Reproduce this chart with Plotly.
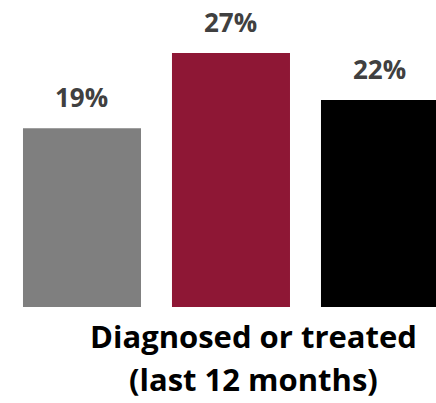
import plotly.graph_objects as go

# Data
groups = ["Group 1", "Group 2", "Group 3"]
values = [19, 27, 22]
value_labels = ["19%", "27%", "22%"]
bar_colors = ["#7f7f7f", "#8e1735", "#000000"]
category_lines = ["Diagnosed or treated", "(last 12 months)"]

W, H = 436, 403
FONT = "'Open Sans', sans-serif"

fig = go.Figure()
fig.add_trace(go.Bar(
    x=groups, y=values,
    marker=dict(color=bar_colors, line=dict(width=0)),
    width=0.792,
    hoverinfo="skip",
    showlegend=False,
))

annotations = []
for g, v, t in zip(groups, values, value_labels):
    annotations.append(dict(
        x=g, y=v, xref="x", yref="y", text="<b>%s</b>" % t,
        showarrow=False, yanchor="bottom", yshift=11,
        font=dict(family=FONT, size=26, color="#404040"),
    ))

plot_h = 307
line_y = [-40, -83]  # baselines in px below axis
for txt, dy in zip(category_lines, line_y):
    annotations.append(dict(
        x=254 / W, y=dy / plot_h, xref="paper", yref="paper",
        text="<b>%s</b>" % txt, showarrow=False,
        yanchor="bottom", xanchor="center", yshift=-12,
        font=dict(family=FONT, size=31, color="#000000"),
    ))

fig.update_layout(
    width=W, height=H,
    margin=dict(l=0, r=0, t=0, b=H - plot_h, pad=0),
    paper_bgcolor="white", plot_bgcolor="white",
    xaxis=dict(range=[-0.5503, 2.376], showticklabels=False, showgrid=False,
               zeroline=False, showline=False, ticks=""),
    yaxis=dict(range=[0, plot_h / 9.41], showticklabels=False, showgrid=False,
               zeroline=False, showline=False, ticks=""),
    annotations=annotations,
)

fig.write_html("out.html", config={"displayModeBar": False})
